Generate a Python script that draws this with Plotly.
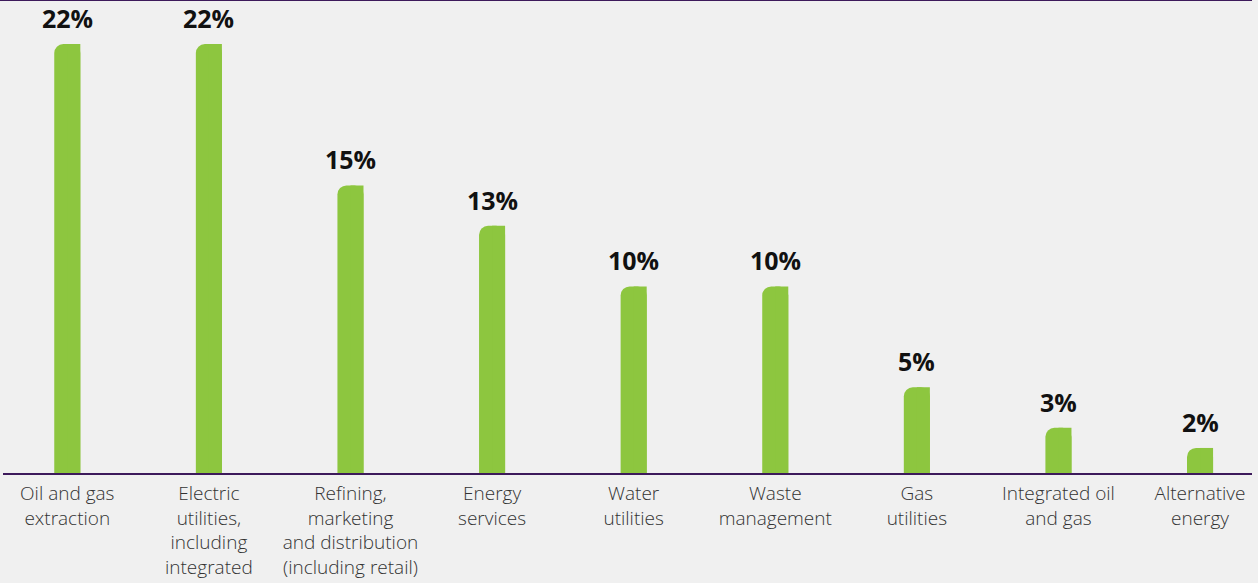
import plotly.graph_objects as go

categories = [
    "Oil and gas<br>extraction",
    "Electric<br>utilities,<br>including<br>integrated",
    "Refining,<br>marketing<br>and distribution<br>(including retail)",
    "Energy<br>services",
    "Water<br>utilities",
    "Waste<br>management",
    "Gas<br>utilities",
    "Integrated oil<br>and gas",
    "Alternative<br>energy",
]
values = [22, 22, 15, 13, 10, 10, 5, 3, 2]
value_labels = ["22%", "22%", "15%", "13%", "10%", "10%", "5%", "3%", "2%"]

GREEN = "#8dc63f"
PURPLE = "#3d1a5b"
BG = "#f0f0f0"

xs = list(range(len(categories)))

fig = go.Figure()
# rounded bar (top corners rounded)
fig.add_trace(go.Bar(
    x=xs, y=values, width=0.184,
    marker=dict(color=GREEN, cornerradius=9, line=dict(width=0)),
    hoverinfo="skip", showlegend=False,
))
# right half square overlay so only top-left corner is rounded
fig.add_trace(go.Bar(
    x=xs, y=values, width=0.092, offset=0,
    marker=dict(color=GREEN, line=dict(width=0)),
    hoverinfo="skip", showlegend=False,
))

for x, v, t in zip(xs, values, value_labels):
    fig.add_annotation(
        x=x, y=v, text=f"<b>{t}</b>", showarrow=False,
        yanchor="bottom", yshift=7,
        font=dict(family="Open Sans", size=25, color="#111111"),
    )

fig.add_shape(type="line", xref="paper", yref="paper", x0=-0.003, x1=1,
              y0=1.0015, y1=1.0015, line=dict(color=PURPLE, width=1.5))

fig.update_layout(
    width=1258, height=583,
    margin=dict(l=3, r=6, t=1, b=110),
    paper_bgcolor=BG, plot_bgcolor=BG,
    barmode="overlay",
    xaxis=dict(
        range=[-0.454, 8.367],
        tickmode="array", tickvals=xs, ticktext=categories,
        showgrid=False, zeroline=False, automargin=False,
        showline=True, linecolor=PURPLE, linewidth=2,
        ticks="outside", ticklen=2, tickcolor="rgba(0,0,0,0)",
        tickfont=dict(family="Open Sans", size=19, color="#333333", weight=300),
    ),
    yaxis=dict(
        range=[0.76, 24.13], automargin=False,
        showgrid=False, zeroline=False, showticklabels=False, showline=False,
    ),
)

fig.write_html(
    "out.html",
    config={"displayModeBar": False},
    post_script="document.body.style.margin='0';document.body.style.background='%s';" % BG,
)
